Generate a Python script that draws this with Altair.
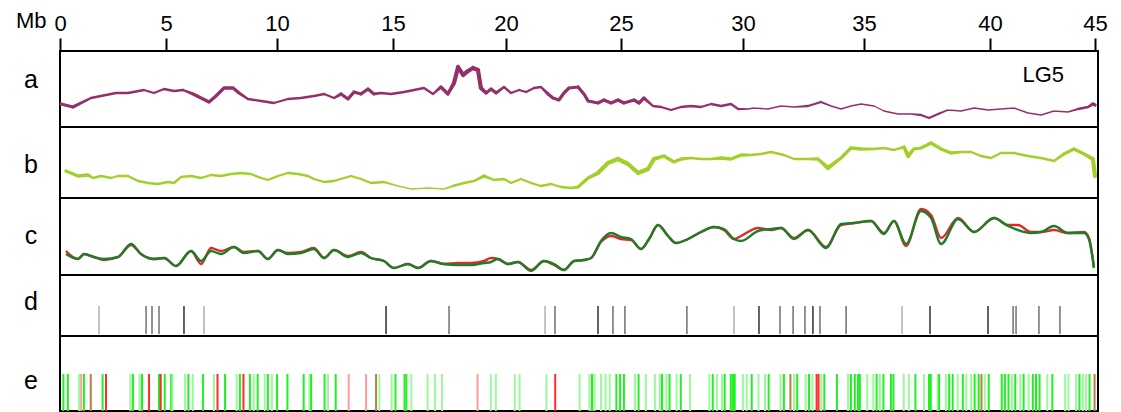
import altair as alt
import pandas as pd

FONT = "Liberation Sans"

# ---- axis ticks (Mb) ----
TICKS = [0, 5, 10, 15, 20, 25, 30, 35, 40, 45]

# ---- panel a: purple track ----
a_mb = [0.05,0.61,1.46,1.93,2.64,3.21,3.96,4.43,4.91,5.36,
        5.77,6.22,6.58,6.94,7.25,7.61,8.02,8.29,8.69,9.28,
        9.86,10.47,11.03,11.59,12.03,12.46,12.76,13.06,13.32,13.62,
        13.92,14.18,14.48,14.91,15.49,15.93,16.37,16.77,17.12,17.43,
        17.70,17.88,18.10,18.32,18.54,18.76,18.89,19.12,19.34,19.56,
        19.91,20.22,20.57,20.87,21.22,21.52,21.83,22.04,22.30,22.52,
        22.74,23.13,23.39,23.57,24.00,24.26,24.57,24.87,25.12,25.53,
        25.74,25.94,26.31,26.64,27.05,27.46,27.87,28.28,28.69,29.10,
        29.51,29.80,30.21,30.45,31.03,31.57,32.11,32.69,33.22,33.64,
        34.05,34.46,34.88,35.40,35.79,36.35,36.87,37.26,37.58,37.94,
        38.33,38.85,39.37,39.92,40.52,41.14,41.81,42.43,43.05,43.71,
        44.19,44.67,44.90,45.0]
a_val = [23,20,29,31,34,34,37,34,38,36,
         37,33,29,25,31,39,39,34,28,26,
         24,28,29,31,33,29,33,28,35,33,
         38,33,34,33,35,37,39,33,40,33,
         44,60,52,56,59,57,39,34,38,34,
         40,34,37,35,39,40,33,29,27,34,
         39,40,33,26,24,27,24,27,24,27,
         24,29,21,20,17,20,21,20,23,21,
         23,18,18,19,18,21,20,21,25,21,
         18,21,23,21,16,13,13,12,9,13,
         17,16,19,17,18,19,14,12,16,15,
         18,20,23,22]
a_weight = [3,3,2,2,2,2,2,2,2,2,
            2,3,3,3,3,3,3,3,2,2,
            2,2,2,2,2,2,3,3,3,3,
            3,3,2,2,2,2,2,2,3,3,
            4,4,4,4,4,4,4,3,3,3,
            2,2,2,2,2,2,3,3,3,3,
            3,3,3,3,3,3,3,3,3,3,
            3,3,2,2,2,2,2,2,2,2,
            2,2,1,1,1,1,1,2,2,1,
            1,1,1,1,1,1,1,2,2,2,
            1,1,1,1,1,1,1,1,1,1,
            2,2,3,3]

# ---- panel b: yellow-green track ----
b_mb = [0.28,0.85,1.32,1.56,1.93,2.41,2.74,3.21,3.68,4.15,
        4.62,5.09,5.36,5.68,6.13,6.58,7.03,7.48,7.93,8.38,
        8.83,9.28,9.59,10.04,10.47,10.91,11.34,11.59,12.03,12.46,
        12.89,13.19,13.62,14.05,14.61,15.22,15.80,16.55,17.26,17.65,
        18.14,18.58,19.03,19.47,19.91,20.22,20.65,21.09,21.52,21.96,
        22.39,22.83,23.13,23.57,24.00,24.43,24.87,25.29,25.70,26.11,
        26.35,26.76,27.17,27.46,27.87,28.28,28.69,29.10,29.51,29.92,
        30.33,30.74,31.16,31.69,32.11,32.69,33.10,33.51,34.05,34.46,
        34.88,35.40,35.79,36.19,36.59,36.75,36.98,37.26,37.66,38.06,
        38.45,38.85,39.25,39.64,40.05,40.52,41.14,41.81,42.43,43.05,
        43.52,44.00,44.48,44.90,45.0]
b_val = [27,22,23,20,22,20,22,22,17,15,
         14,16,15,21,22,20,23,22,24,25,
         24,20,18,22,25,24,22,19,16,17,
         20,22,19,15,16,12,9,10,9,12,
         15,17,22,18,19,15,19,15,12,14,
         11,10,11,20,25,35,39,34,25,29,
         39,42,36,39,40,39,39,40,39,43,
         43,44,46,43,39,39,39,30,40,50,
         49,49,50,48,51,42,49,50,55,49,
         45,46,46,42,40,45,45,42,40,37,
         44,49,44,39,22]
b_weight = [3,3,3,2,2,2,2,2,2,2,
            2,2,2,2,2,2,2,2,2,2,
            2,2,2,2,2,2,2,2,2,2,
            2,2,2,2,2,1,1,1,1,2,
            2,2,3,2,2,2,2,2,2,2,
            2,2,3,3,4,4,4,4,4,4,
            4,3,3,3,2,2,2,3,3,3,
            2,2,2,2,2,2,3,4,3,3,
            3,2,2,2,3,4,3,3,3,3,
            3,2,2,2,2,2,2,2,2,2,
            3,3,3,4,4]

# ---- panel c: two tracks (red and green) ----
c_mb = [0.28,0.85,1.13,1.60,2.08,2.74,3.35,3.82,4.43,4.91,
        5.45,6.13,6.58,7.03,7.48,8.06,8.51,9.14,9.59,10.04,
        10.47,11.03,11.59,12.03,12.46,13.06,13.62,14.05,14.61,15.04,
        15.66,16.11,16.68,17.26,17.88,18.45,19.03,19.34,19.65,20.09,
        20.52,21.09,21.65,22.09,22.52,22.96,23.39,23.70,24.13,24.57,
        25.00,25.41,25.82,26.15,26.52,26.93,27.25,27.75,28.28,28.81,
        29.22,29.63,29.92,30.62,31.16,31.57,32.11,32.69,33.43,34.05,
        34.59,35.28,35.79,36.19,36.67,37.26,37.66,38.06,38.73,39.37,
        40.19,40.86,41.33,41.95,42.43,43.05,43.71,44.48,44.71,44.95]
c_green = [21,16,21,18,16,18,31,21,16,17,
           9,24,14,24,21,28,22,24,16,25,
           21,22,26,17,25,18,22,17,14,7,
           11,7,14,11,10,10,12,13,16,11,
           13,4,14,11,5,14,15,17,34,42,
           38,36,26,36,50,39,32,36,43,48,
           46,36,34,44,46,47,36,45,27,51,
           52,54,41,54,31,64,57,31,56,43,
           57,49,45,42,43,49,42,42,36,7]
c_red = [24,16,21,18,15,18,30,21,16,17,
         9,24,11,27,24,28,23,24,16,25,
         22,23,27,17,25,19,23,17,14,7,
         11,7,14,11,12,12,14,17,16,11,
         13,5,14,10,5,14,15,17,33,39,
         36,35,26,36,50,39,32,36,43,48,
         45,36,39,47,45,47,37,45,28,50,
         52,54,42,54,29,66,60,37,57,43,
         57,50,50,43,43,45,42,43,37,8]

# ---- panel d: marker positions ----
d_mb = [1.84,4.06,4.34,4.67,5.81,6.71,14.70,17.48,21.70,22.13,
        24.00,24.65,25.16,27.70,29.63,30.66,31.53,32.07,32.56,32.89,
        33.18,34.26,36.51,37.62,39.92,41.10,41.24,42.33,43.33]
d_shade = ["light","mid","mid","mid","dark","light","dark","mid","light","mid",
           "dark","mid","mid","mid","light","dark","mid","mid","mid","dark",
           "mid","mid","light","dark","dark","mid","mid","mid","mid"]

# ---- panel e: variant positions and class ----
e_marks = [
    (0.16,"G"),(0.37,"G"),(0.90,"g"),(1.00,"r"),(1.13,"G"),(1.45,"B"),(2.01,"G"),(2.17,"R"),
    (3.32,"g"),(3.44,"G"),(3.76,"g"),(3.87,"G"),(4.20,"R"),(4.67,"G"),(4.75,"R"),(4.94,"G"),
    (5.23,"G"),(5.29,"g"),(5.86,"g"),(6.01,"G"),(6.21,"g"),(6.67,"G"),(7.16,"g"),(7.32,"R"),
    (7.66,"G"),(8.18,"g"),(8.33,"G"),(8.49,"R"),(8.78,"G"),(8.95,"g"),(9.13,"G"),(9.45,"g"),
    (9.59,"G"),(9.77,"g"),(10.00,"G"),(10.45,"G"),(11.15,"G"),(11.40,"g"),(11.47,"G"),
    (12.05,"G"),(12.20,"g"),(12.53,"G"),(13.09,"r"),(13.84,"r"),(14.27,"B"),(14.41,"g"),
    (14.94,"g"),(15.11,"G"),(15.51,"G"),(15.59,"G"),(15.81,"g"),(16.53,"g"),(16.86,"g"),
    (17.17,"g"),(18.74,"r"),(19.33,"g"),(19.55,"g"),(20.38,"g"),(20.59,"g"),(21.76,"g"),
    (22.14,"R"),(23.20,"g"),(23.63,"g"),(23.74,"G"),(23.85,"g"),(24.13,"g"),(24.33,"g"),
    (24.51,"g"),(24.80,"G"),(24.96,"G"),(25.12,"G"),(25.57,"g"),(25.72,"G"),(26.02,"g"),
    (26.39,"g"),(26.59,"g"),(26.68,"G"),(26.86,"g"),(26.99,"G"),(27.28,"g"),(27.45,"G"),
    (27.83,"g"),(28.62,"g"),(28.76,"G"),(28.93,"g"),(29.14,"g"),(29.25,"G"),(29.50,"G"),
    (29.59,"G"),(29.66,"G"),(30.00,"g"),(30.15,"g"),(30.36,"G"),(30.64,"g"),(30.91,"g"),
    (31.06,"G"),(31.55,"g"),(31.69,"G"),(31.96,"B"),(32.11,"g"),(32.24,"G"),(32.59,"g"),
    (32.73,"G"),(32.87,"g"),(33.04,"R"),(33.12,"R"),(33.22,"g"),(33.36,"G"),(33.88,"G"),
    (34.34,"g"),(34.46,"G"),(34.62,"G"),(34.75,"G"),(34.83,"G"),(35.13,"g"),(35.37,"g"),
    (35.50,"G"),(35.63,"g"),(35.77,"G"),(36.07,"G"),(36.17,"G"),(36.58,"g"),(36.78,"g"),
    (37.04,"G"),(37.38,"g"),(37.58,"G"),(37.65,"G"),(37.92,"g"),(37.98,"G"),(38.25,"g"),
    (38.38,"G"),(38.52,"G"),(38.72,"g"),(38.92,"G"),(39.06,"g"),(39.25,"g"),(39.39,"G"),
    (39.55,"G"),(39.66,"B"),(39.79,"g"),(39.95,"G"),(40.56,"G"),(40.71,"G"),(40.88,"G"),
    (41.04,"g"),(41.20,"G"),(41.44,"g"),(41.60,"G"),(41.84,"g"),(42.04,"G"),(42.19,"G"),
    (42.36,"G"),(42.73,"g"),(42.97,"G"),(43.58,"g"),(43.74,"g"),(44.10,"g"),(44.26,"G"),
    (44.42,"g"),(44.57,"g"),(44.74,"G"),(44.98,"B"),
]

panel_labels = ["a", "b", "c", "d", "e"]
chrom_label = "LG5"

# ---------------- build ----------------
W = 1038
X_RANGE = [0, 106, 217, 333, 446, 561, 683, 804, 930, 1035]
x_scale = alt.Scale(domain=TICKS, range=X_RANGE, nice=False, zero=False)

def xenc(top=False):
    if top:
        return alt.X("mb:Q", scale=x_scale, axis=alt.Axis(
            orient="top", values=TICKS, tickSize=13, tickWidth=2, tickColor="black",
            domain=False, grid=False, labelFontSize=22, labelFont=FONT, labelColor="black",
            labelPadding=3, labelFlush=False, labelOverlap=False,
            title="Mb", titleFontSize=22, titleFont=FONT, titleFontWeight="normal",
            titleColor="black", titleAngle=0, titleX=-14, titleY=-24,
            titleAlign="right", titleBaseline="alphabetic"))
    return alt.X("mb:Q", scale=x_scale, axis=None)

def letter(lbl, base):
    return alt.Chart(pd.DataFrame({"t": [lbl]})).mark_text(
        font=FONT, fontSize=25, align="center", baseline="alphabetic", color="black"
    ).encode(x=alt.value(-29), y=alt.value(base), text="t:N")

# a
df_a = pd.DataFrame({"mb": a_mb, "v": a_val, "w": a_weight})
line_a = alt.Chart(df_a).mark_trail(color="#93306a").encode(
    x=xenc(top=True),
    y=alt.Y("v:Q", scale=alt.Scale(domain=[0, 76], nice=False, zero=False), axis=None),
    size=alt.Size("w:Q", scale=alt.Scale(domain=[1, 4], range=[1.4, 4.2]), legend=None),
    order="mb:Q")
lg = alt.Chart(pd.DataFrame({"t": [chrom_label]})).mark_text(
    font=FONT, fontSize=22, align="right", baseline="alphabetic", color="black"
).encode(x=alt.value(1004), y=alt.value(31), text="t:N")
pa = alt.layer(line_a, lg, letter(panel_labels[0], 37)).properties(width=W, height=76)

# b
df_b = pd.DataFrame({"mb": b_mb, "v": b_val, "w": b_weight})
line_b = alt.Chart(df_b).mark_trail(color="#a2cf2c").encode(
    x=xenc(),
    y=alt.Y("v:Q", scale=alt.Scale(domain=[0, 71], nice=False, zero=False), axis=None),
    size=alt.Size("w:Q", scale=alt.Scale(domain=[1, 4], range=[1.4, 4.2]), legend=None),
    order="mb:Q")
pb = alt.layer(line_b, letter(panel_labels[1], 46)).properties(width=W, height=71)

# c
df_c = pd.DataFrame({"mb": c_mb, "green": c_green, "red": c_red})
yc = alt.Scale(domain=[0, 77], nice=False, zero=False)
red_c = alt.Chart(df_c).mark_line(color="#de2a2a", strokeWidth=2.4, interpolate="monotone").encode(
    x=xenc(), y=alt.Y("red:Q", scale=yc, axis=None))
green_c = alt.Chart(df_c).mark_line(color="#1e7d28", strokeWidth=2.4, interpolate="monotone").encode(
    x=xenc(), y=alt.Y("green:Q", scale=yc, axis=None))
pc = alt.layer(red_c, green_c, letter(panel_labels[2], 46)).properties(width=W, height=77)

# d
df_d = pd.DataFrame({"mb": d_mb, "shade": d_shade})
rules_d = alt.Chart(df_d).mark_rule(strokeWidth=1.6).encode(
    x=xenc(), y=alt.value(31), y2=alt.value(59),
    color=alt.Color("shade:N", scale=alt.Scale(domain=["dark", "mid", "light"],
                                               range=["#3c3c3c", "#7a7a7a", "#b4b4b4"]),
                    legend=None))
pd_ = alt.layer(rules_d, letter(panel_labels[3], 35)).properties(width=W, height=61)

# e
df_e = pd.DataFrame({"mb": [m for m, _ in e_marks], "kind": [k for _, k in e_marks]})
rules_e = alt.Chart(df_e).mark_rule(strokeWidth=2).encode(
    x=xenc(), y=alt.value(38), y2=alt.value(75),
    color=alt.Color("kind:N", scale=alt.Scale(domain=["G", "g", "R", "r", "B"],
                                              range=["#22f022", "#9cf99c", "#ff2a2a", "#ff9c9c", "#b5803f"]),
                    legend=None))
pe = alt.layer(rules_e, letter(panel_labels[4], 53)).properties(width=W, height=75)

chart = alt.vconcat(pa, pb, pc, pd_, pe, spacing=0, bounds="flush").resolve_scale(
    color="independent", size="independent"
).properties(
    padding={"left": 14, "top": 8, "right": 4, "bottom": 0},
    background="white",
).configure_view(stroke="black", strokeWidth=2)

chart.save("out.html", embed_options={"renderer": "svg", "actions": False})
